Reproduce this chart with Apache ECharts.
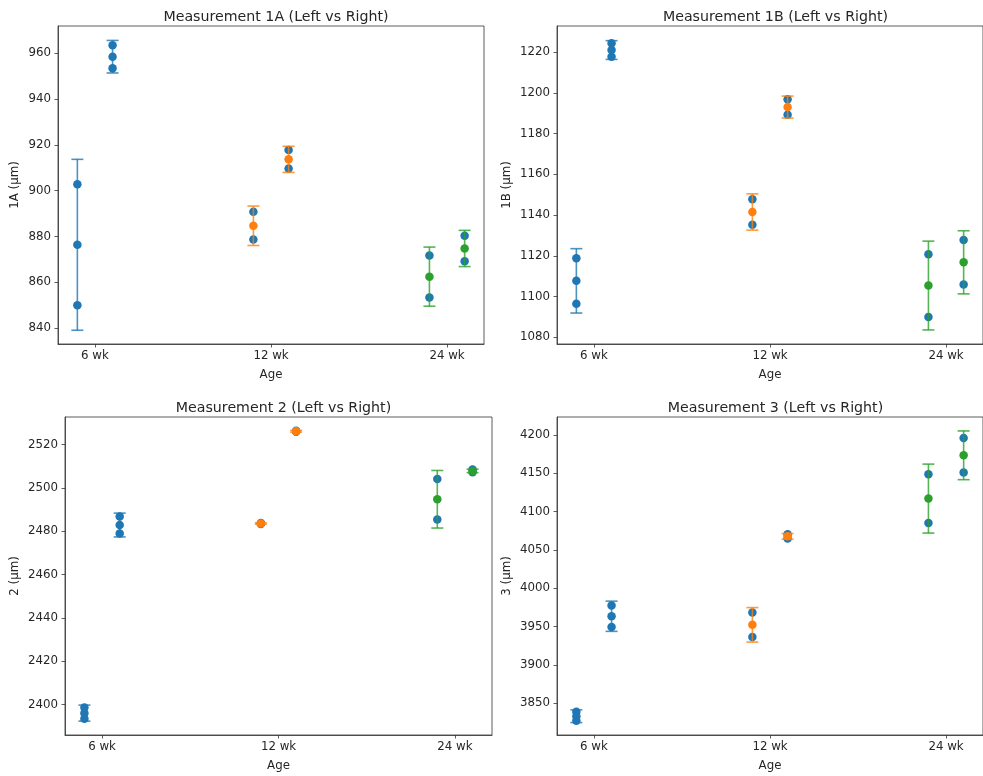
<!DOCTYPE html>
<html><head><meta charset="utf-8">
<script src="https://cdn.jsdelivr.net/npm/echarts@6/dist/echarts.min.js"></script>
<style>html,body{margin:0;padding:0;background:#fff}#c{width:983px;height:776px}</style>
</head><body><div id="c"></div>
<script>
// ---- data ----
const ages = ['6 wk', '12 wk', '24 wk'];
const sides = ['Left', 'Right'];
const titles = ['Measurement 1A (Left vs Right)', 'Measurement 1B (Left vs Right)',
                'Measurement 2 (Left vs Right)', 'Measurement 3 (Left vs Right)'];
const yNames = ['1A (µm)', '1B (µm)', '2 (µm)', '3 (µm)'];
// group order: 6wk L, 6wk R, 12wk L, 12wk R, 24wk L, 24wk R
const m1A_points = [[902.8, 850.0], [963.5, 953.5], [890.8, 878.7], [917.8, 909.7], [871.7, 853.4], [880.4, 869.2]];
const m1A_mean   = [876.4, 958.5, 884.7, 913.7, 862.5, 874.8];
const m1A_sd     = [37.3, 7.1, 8.6, 5.7, 12.9, 7.9];
const m1B_points = [[1118.8, 1096.5], [1224.3, 1217.7], [1147.8, 1135.2], [1196.9, 1189.2], [1120.8, 1090.0], [1127.8, 1105.9]];
const m1B_mean   = [1107.7, 1221.0, 1141.5, 1193.0, 1105.4, 1116.8];
const m1B_sd     = [15.8, 4.6, 8.9, 5.4, 21.8, 15.5];
const m2_points  = [[2398.6, 2393.4], [2486.8, 2479.0], [2483.8, 2483.4], [2526.5, 2526.0], [2504.2, 2485.4], [2508.5, 2507.3]];
const m2_mean    = [2396.0, 2482.9, 2483.6, 2526.2, 2494.8, 2507.9];
const m2_sd      = [3.7, 5.5, 0.3, 0.4, 13.3, 0.8];
const m3_points  = [[3838.9, 3827.2], [3977.4, 3949.5], [3968.3, 3936.4], [4070.4, 4065.1], [4148.9, 4085.2], [4196.1, 4151.1]];
const m3_mean    = [3833.0, 3963.5, 3952.3, 4067.8, 4117.1, 4173.6];
const m3_sd      = [8.3, 19.7, 22.5, 3.7, 45.0, 31.8];
const yTicks1A = [840, 860, 880, 900, 920, 940, 960];
const yTicks1B = [1080, 1100, 1120, 1140, 1160, 1180, 1200, 1220];
const yTicks2  = [2400, 2420, 2440, 2460, 2480, 2500, 2520];
const yTicks3  = [3850, 3900, 3950, 4000, 4050, 4100, 4150, 4200];
const yRanges = [[833.1, 971.9], [1076.7, 1232.8], [2385.9, 2532.8], [3808.5, 4223.6]];

// ---- layout / style ----
const ageColors = ['#1f77b4', '#ff7f0e', '#2ca02c'];
const pointColor = '#1f77b4';
const sideOffset = [-0.1, 0.1];
const FONT = 'DejaVu Sans';
const TXT = '#262626';
const panels = [
  {points: m1A_points, mean: m1A_mean, sd: m1A_sd, ticks: yTicks1A, grid: {left: 58, top: 26, width: 426, height: 318}, nameGap: 37},
  {points: m1B_points, mean: m1B_mean, sd: m1B_sd, ticks: yTicks1B, grid: {left: 557, top: 26, width: 427, height: 318}, nameGap: 44},
  {points: m2_points, mean: m2_mean, sd: m2_sd, ticks: yTicks2, grid: {left: 65, top: 417, width: 427, height: 318}, nameGap: 44},
  {points: m3_points, mean: m3_mean, sd: m3_sd, ticks: yTicks3, grid: {left: 557, top: 417, width: 427, height: 318}, nameGap: 44}
];

const grids = [], xAxes = [], yAxes = [], series = [], titleOpts = [];
panels.forEach((p, i) => {
  grids.push(Object.assign({show: true, borderColor: '#333', borderWidth: 0.8, backgroundColor: '#fff'}, p.grid));
  titleOpts.push({text: titles[i], left: p.grid.left + p.grid.width / 2, top: p.grid.top - 21, textAlign: 'center',
    textStyle: {fontFamily: FONT, fontSize: 14.2, fontWeight: 'normal', color: TXT}});
  xAxes.push({type: 'value', gridIndex: i, min: -0.21, max: 2.21,
    splitLine: {show: false},
    axisLine: {show: true, onZero: false, lineStyle: {color: '#333', width: 0.8}},
    axisTick: {show: true, customValues: [0, 1, 2], length: 3.5, lineStyle: {color: '#333', width: 0.8}},
    axisLabel: {customValues: [0, 1, 2], formatter: v => ages[Math.round(v)], margin: 6,
      fontFamily: FONT, fontSize: 11.8, color: TXT},
    name: 'Age', nameLocation: 'middle', nameGap: 25,
    nameTextStyle: {fontFamily: FONT, fontSize: 11.8, color: TXT}});
  yAxes.push({type: 'value', gridIndex: i, min: yRanges[i][0], max: yRanges[i][1],
    splitLine: {show: false},
    axisLine: {show: true, onZero: false, lineStyle: {color: '#333', width: 0.8}},
    axisTick: {show: true, customValues: p.ticks, length: 3.5, lineStyle: {color: '#333', width: 0.8}},
    axisLabel: {customValues: p.ticks, formatter: v => String(Math.round(v)), margin: 7,
      fontFamily: FONT, fontSize: 11.8, color: TXT},
    name: yNames[i], nameLocation: 'middle', nameGap: p.nameGap, nameRotate: 90,
    nameTextStyle: {fontFamily: FONT, fontSize: 11.8, color: TXT}});

  const indiv = [], bars = [], means = [];
  p.mean.forEach((m, g) => {
    const a = Math.floor(g / 2), s = g % 2;
    const x = a + sideOffset[s];
    p.points[g].forEach(v => indiv.push([x, v]));
    bars.push([x, m - p.sd[g], m + p.sd[g], a]);
    means.push({value: [x, m], itemStyle: {color: ageColors[a], opacity: 1}});
  });
  series.push({type: 'scatter', xAxisIndex: i, yAxisIndex: i, data: indiv, symbolSize: 8.5,
    itemStyle: {color: pointColor, opacity: 1}, z: 2, silent: true});
  series.push({type: 'custom', xAxisIndex: i, yAxisIndex: i, data: bars, z: 3, silent: true,
    renderItem: function (params, api) {
      const x = api.value(0), lo = api.value(1), hi = api.value(2), ci = api.value(3);
      const p1 = api.coord([x, hi]), p2 = api.coord([x, lo]);
      const hw = 6;
      const st = {stroke: ageColors[ci], lineWidth: 1.6, opacity: 0.8};
      return {type: 'group', children: [
        {type: 'line', shape: {x1: p1[0], y1: p1[1], x2: p2[0], y2: p2[1]}, style: st},
        {type: 'line', shape: {x1: p1[0] - hw, y1: p1[1], x2: p1[0] + hw, y2: p1[1]}, style: st},
        {type: 'line', shape: {x1: p2[0] - hw, y1: p2[1], x2: p2[0] + hw, y2: p2[1]}, style: st}
      ]};
    }});
  series.push({type: 'scatter', xAxisIndex: i, yAxisIndex: i, data: means, symbolSize: 8.5, z: 4, silent: true,
    itemStyle: {opacity: 1}});
});

const chart = echarts.init(document.getElementById('c'), null, {renderer: 'canvas'});
chart.setOption({animation: false, backgroundColor: '#fff', title: titleOpts,
  grid: grids, xAxis: xAxes, yAxis: yAxes, series: series});
</script>
</body></html>
